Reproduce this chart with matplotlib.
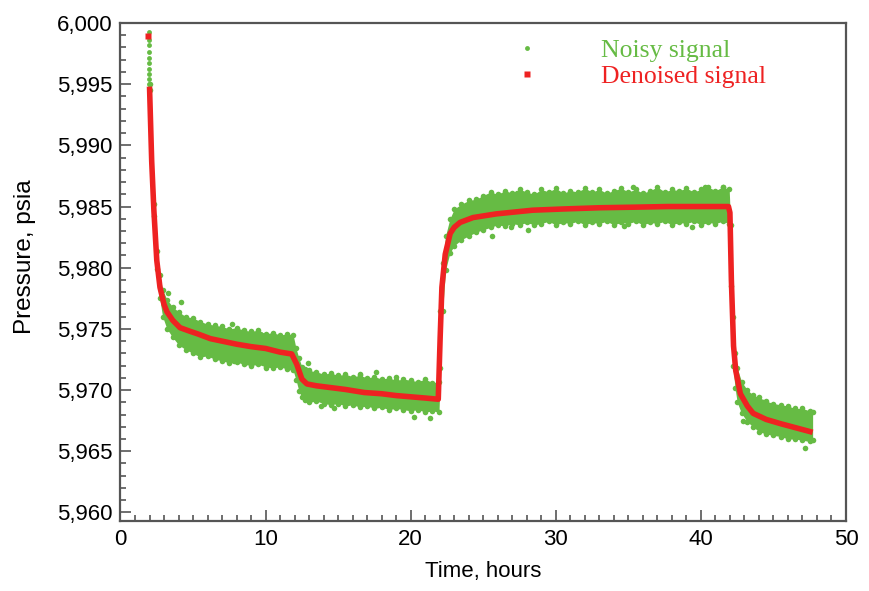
import matplotlib
matplotlib.use("Agg")
import matplotlib.pyplot as plt
from matplotlib.ticker import MultipleLocator, FuncFormatter
from matplotlib.lines import Line2D

# ---------------- data ----------------
# Denoised signal (hours, psia)
denoised_time = [2.0, 2.15, 2.3, 2.5, 2.72, 3.0, 3.2, 3.6, 4.1, 4.8, 5.3, 6.2, 7.0, 8.0, 9.0,
                 10.0, 11.0, 11.8, 12.15, 12.5, 12.85, 13.5, 14.5, 15.5, 16.8, 18.0, 19.0, 20.0,
                 21.0, 21.9, 22.03, 22.15, 22.38, 22.72, 23.0, 23.4, 24.3, 25.9, 28.4, 30.5,
                 33.0, 35.5, 37.7, 40.0, 41.9, 42.0, 42.1, 42.25, 42.4, 42.72, 43.2, 43.6,
                 44.5, 45.5, 46.6, 47.7]
denoised_pressure = [5994.8, 5988.7, 5984.7, 5980.6, 5978.4, 5977.0, 5976.4, 5975.7, 5975.1,
                     5974.8, 5974.6, 5974.2, 5974.0, 5973.75, 5973.55, 5973.4, 5973.1, 5972.95,
                     5972.1, 5970.9, 5970.5, 5970.35, 5970.2, 5970.05, 5969.8, 5969.7, 5969.55,
                     5969.45, 5969.35, 5969.25, 5974.3, 5978.4, 5981.1, 5982.8, 5983.3, 5983.7,
                     5984.1, 5984.4, 5984.7, 5984.8, 5984.9, 5984.95, 5985.0, 5985.0, 5985.0,
                     5984.5, 5979.0, 5973.6, 5971.6, 5969.7, 5968.7, 5968.1, 5967.6, 5967.25,
                     5966.9, 5966.55]
denoised_start_time = [1.9]
denoised_start_pressure = [5998.9]

# Noisy signal: band envelope (hours, lower / upper psia)
noisy_time = [2.0, 2.3, 2.5, 2.7, 2.9, 3.2, 3.6, 4.0, 4.5, 5.0, 5.5, 6.0, 6.5, 7.0, 7.5, 8.0,
              8.5, 9.0, 9.5, 10.0, 10.5, 11.0, 11.5, 11.9, 12.1, 12.3, 12.5, 12.7, 13.0, 13.5,
              14.0, 14.5, 15.0, 15.5, 16.0, 16.5, 17.0, 17.5, 18.0, 18.5, 19.0, 19.5, 20.0,
              20.5, 21.0, 21.5, 21.95, 22.05, 22.2, 22.4, 22.7, 23.0, 23.5, 24.0, 24.5, 25.0,
              25.5, 26.0, 26.5, 27.0, 27.5, 28.0, 28.5, 29.0, 29.5, 30.0, 30.5, 31.0, 31.5,
              32.0, 32.5, 33.0, 33.5, 34.0, 34.5, 35.0, 35.5, 36.0, 36.5, 37.0, 37.5, 38.0,
              38.5, 39.0, 39.5, 40.0, 40.5, 41.0, 41.5, 41.95, 42.05, 42.2, 42.35, 42.5, 42.8,
              43.2, 43.6, 44.0, 44.5, 45.0, 45.5, 46.0, 46.5, 47.0, 47.5, 47.7]
noisy_upper = [5995.0, 5985.2, 5981.4, 5979.4, 5978.2, 5977.4, 5976.8, 5976.4, 5976.0, 5975.9,
               5975.6, 5975.4, 5975.3, 5975.2, 5975.0, 5975.1, 5974.9, 5974.8, 5974.9, 5974.6,
               5974.7, 5974.5, 5974.6, 5974.5, 5973.4, 5972.6, 5971.9, 5971.7, 5971.6, 5971.5,
               5971.3, 5971.4, 5971.2, 5971.3, 5971.1, 5971.2, 5971.0, 5971.1, 5970.9, 5971.0,
               5970.8, 5970.9, 5970.8, 5970.7, 5970.9, 5970.6, 5970.7, 5976.5, 5980.4, 5982.6,
               5984.0, 5984.8, 5985.2, 5985.5, 5985.6, 5985.9, 5986.2, 5986.0, 5986.3, 5986.1,
               5986.4, 5986.2, 5986.0, 5986.4, 5986.2, 5986.5, 5986.1, 5986.3, 5986.2, 5986.5,
               5986.2, 5986.4, 5986.1, 5986.3, 5986.5, 5986.2, 5986.4, 5986.1, 5986.3, 5986.6,
               5986.2, 5986.4, 5986.3, 5986.5, 5986.2, 5986.4, 5986.6, 5986.3, 5986.6, 5986.4,
               5983.5, 5976.0, 5973.0, 5971.8, 5970.7, 5970.0, 5969.6, 5969.4, 5969.1, 5968.9,
               5968.8, 5968.7, 5968.5, 5968.5, 5968.3, 5968.2]
noisy_lower = [5994.5, 5984.2, 5979.9, 5977.5, 5976.0, 5975.0, 5974.3, 5973.7, 5973.3, 5973.0,
               5972.7, 5972.8, 5972.5, 5972.4, 5972.2, 5972.3, 5972.1, 5972.0, 5972.1, 5971.9,
               5971.8, 5971.9, 5971.7, 5971.6, 5970.8, 5969.9, 5969.4, 5969.2, 5969.0, 5969.1,
               5968.9, 5968.8, 5968.9, 5968.7, 5968.8, 5968.6, 5968.7, 5968.5, 5968.6, 5968.4,
               5968.5, 5968.4, 5968.3, 5968.4, 5968.2, 5968.3, 5968.2, 5971.8, 5976.5, 5979.8,
               5981.2, 5981.8, 5982.3, 5982.6, 5982.9, 5983.1, 5983.3, 5983.5, 5983.4, 5983.6,
               5983.5, 5983.7, 5983.5, 5983.6, 5983.8, 5983.5, 5983.7, 5983.6, 5983.8, 5983.5,
               5983.7, 5983.6, 5983.8, 5983.5, 5983.7, 5983.6, 5983.8, 5983.5, 5983.7, 5983.6,
               5983.8, 5983.5, 5983.7, 5983.6, 5983.8, 5983.5, 5983.7, 5983.6, 5983.8, 5983.6,
               5978.5, 5972.0, 5970.2, 5969.0, 5968.1, 5967.4, 5967.0, 5966.6, 5966.4, 5966.3,
               5966.2, 5966.0, 5966.0, 5965.9, 5965.8, 5965.9]
# Noisy samples at the first reading and scattered outliers
noisy_spike_time = [1.95, 1.95, 1.95, 1.95, 1.95, 1.95, 1.95, 1.95, 1.95, 1.95]
noisy_spike_pressure = [5999.3, 5998.6, 5998.2, 5997.6, 5997.1, 5996.7, 5996.2, 5995.8,
                        5995.4, 5995.0]
outlier_time = [3.3, 4.2, 5.3, 7.7, 9.6, 7.8, 10.0, 11.5, 12.9, 16.5, 17.6, 19.0, 13.8, 14.7,
                20.2, 21.3, 25.6, 26.9, 27.3, 28.1, 34.7, 35.3, 39.4, 40.3, 41.5, 42.9, 44.3,
                47.0, 47.2]
outlier_pressure = [5977.9, 5977.2, 5973.1, 5975.4, 5974.6, 5972.35, 5971.8, 5972.0, 5972.2,
                    5971.3, 5971.45, 5971.1, 5968.7, 5968.5, 5967.8, 5967.7, 5982.6, 5983.3,
                    5986.1, 5983.1, 5983.4, 5986.6, 5983.3, 5986.6, 5986.6, 5967.5, 5969.0,
                    5968.3, 5965.3]

x_ticks = [0, 10, 20, 30, 40, 50]
y_ticks = [5960, 5965, 5970, 5975, 5980, 5985, 5990, 5995, 6000]
legend_labels = ["Noisy signal", "Denoised signal"]

# ---------------- styling ----------------
GREEN = "#66bb44"
RED = "#ee2222"
SPINE = "#555555"
plt.rcParams["font.family"] = ["Liberation Sans", "DejaVu Sans"]

fig = plt.figure(figsize=(8.7, 5.91), dpi=100)
ax = fig.add_axes([120.5 / 870, 70 / 591, 725.5 / 870, 498 / 591])

# noisy band
ax.fill_between(noisy_time, noisy_lower, noisy_upper, color=GREEN, lw=0, zorder=2)
ax.plot(noisy_time, noisy_upper, ls="", marker="o", ms=4, color=GREEN, mec="none", zorder=2)
ax.plot(noisy_time, noisy_lower, ls="", marker="o", ms=4, color=GREEN, mec="none", zorder=2)
ax.plot(noisy_spike_time, noisy_spike_pressure, ls="", marker="o", ms=3.5, color=GREEN,
        mec="none", zorder=2)
ax.plot(outlier_time, outlier_pressure, ls="", marker="o", ms=4, color=GREEN, mec="none",
        zorder=2)

# denoised line
ax.plot(denoised_time, denoised_pressure, color=RED, lw=4.0, solid_joinstyle="round",
        solid_capstyle="butt", zorder=3)
ax.plot(denoised_start_time, denoised_start_pressure, ls="", marker="s", ms=4, color=RED,
        mec="none", zorder=3)

ax.set_xlim(0, 50)
ax.set_ylim(5959.3, 6000)
ax.set_xticks(x_ticks)
ax.set_yticks(y_ticks)
ax.xaxis.set_minor_locator(MultipleLocator(1))
ax.yaxis.set_minor_locator(MultipleLocator(1))
ax.yaxis.set_major_formatter(FuncFormatter(lambda v, p: f"{v:,.0f}"))
ax.tick_params(which="both", direction="in", color=SPINE, width=1.2, top=False, right=False)
ax.tick_params(which="major", length=8, labelsize=16, pad=6)
ax.tick_params(which="minor", length=4.5)
for s in ax.spines.values():
    s.set_color(SPINE)
    s.set_linewidth(1.6)

ax.set_xlabel("Time, hours", fontsize=16, labelpad=8)
ax.set_ylabel("Pressure, psia", fontsize=17.5)
ax.yaxis.set_label_coords(-0.117, 0.53)

handles = [Line2D([], [], ls="", marker="o", ms=3.5, color=GREEN, mec="none"),
           Line2D([], [], ls="", marker="s", ms=4, color=RED, mec="none")]
leg = ax.legend(handles, legend_labels, loc="upper left", bbox_to_anchor=(0.545, 0.968),
                frameon=False, borderpad=0, borderaxespad=0, handlelength=0.85,
                handletextpad=2.45, labelspacing=0.12,
                prop={"family": "Liberation Serif", "size": 18.5},
                labelcolor=[GREEN, RED])

fig.savefig("out.png", dpi=100)
